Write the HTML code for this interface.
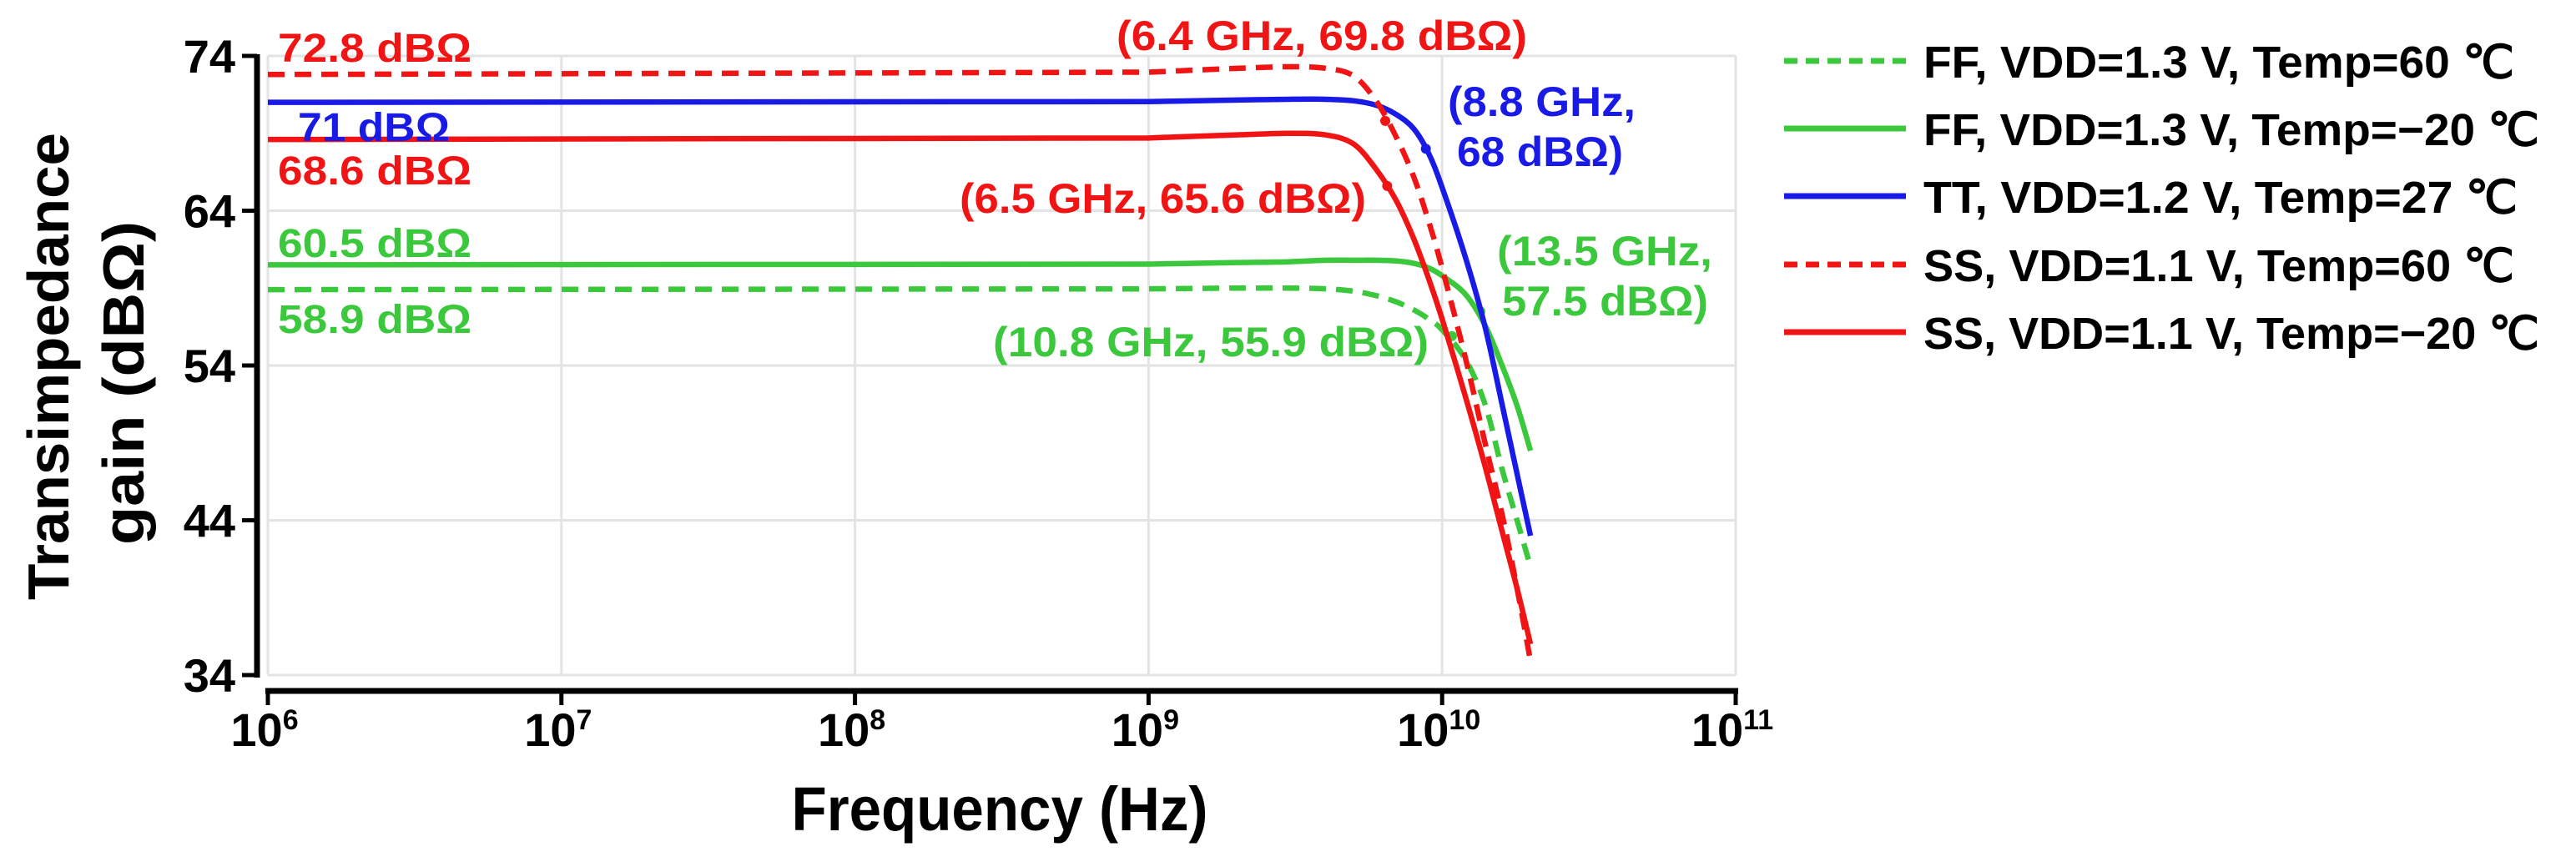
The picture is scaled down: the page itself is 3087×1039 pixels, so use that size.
<!DOCTYPE html>
<html><head><meta charset="utf-8"><style>
html,body{margin:0;padding:0;background:#fff;}
svg{display:block;font-family:"Liberation Sans",sans-serif;font-weight:bold;}
</style></head><body>
<svg id="chart" width="3087" height="1039" viewBox="0 0 3087 1039" xmlns="http://www.w3.org/2000/svg">
<g id="grid"></g>
<g id="series"></g>
<g id="axes"></g>
<g id="annot">
<text x="333" y="74" font-size="48" fill="#f01414" textLength="232" lengthAdjust="spacingAndGlyphs">72.8 dBΩ</text>
<text x="357" y="169" font-size="48" fill="#1a1ae6" textLength="182" lengthAdjust="spacingAndGlyphs">71 dBΩ</text>
<text x="333" y="221" font-size="48" fill="#f01414" textLength="232" lengthAdjust="spacingAndGlyphs">68.6 dBΩ</text>
<text x="333" y="308" font-size="48" fill="#3cc83c" textLength="232" lengthAdjust="spacingAndGlyphs">60.5 dBΩ</text>
<text x="333" y="399" font-size="48" fill="#3cc83c" textLength="232" lengthAdjust="spacingAndGlyphs">58.9 dBΩ</text>
<text x="1338" y="60" font-size="50" fill="#f01414" textLength="492" lengthAdjust="spacingAndGlyphs">(6.4 GHz, 69.8 dBΩ)</text>
<text x="1735" y="139" font-size="50" fill="#1a1ae6" textLength="225" lengthAdjust="spacingAndGlyphs">(8.8 GHz,</text>
<text x="1746" y="199" font-size="50" fill="#1a1ae6" textLength="199" lengthAdjust="spacingAndGlyphs">68 dBΩ)</text>
<text x="1150" y="255" font-size="50" fill="#f01414" textLength="487" lengthAdjust="spacingAndGlyphs">(6.5 GHz, 65.6 dBΩ)</text>
<text x="1794" y="318" font-size="50" fill="#3cc83c" textLength="258" lengthAdjust="spacingAndGlyphs">(13.5 GHz,</text>
<text x="1800" y="378" font-size="50" fill="#3cc83c" textLength="247" lengthAdjust="spacingAndGlyphs">57.5 dBΩ)</text>
<text x="1190" y="427" font-size="50" fill="#3cc83c" textLength="522" lengthAdjust="spacingAndGlyphs">(10.8 GHz, 55.9 dBΩ)</text>
</g>
<g id="legend"></g>
<text x="1198" y="995" font-size="74" text-anchor="middle" textLength="499" lengthAdjust="spacingAndGlyphs">Frequency (Hz)</text>
<text transform="translate(82,439) rotate(-90)" font-size="70" text-anchor="middle" textLength="560" lengthAdjust="spacingAndGlyphs">Transimpedance</text>
<text transform="translate(172,459) rotate(-90)" font-size="70" text-anchor="middle" textLength="388" lengthAdjust="spacingAndGlyphs">gain (dBΩ)</text>
</svg>
<script>
const freqs = [1e6,1e9,2e9,3e9,4e9,5e9,6e9,7e9,8e9,9e9,1e10,1.2e10,1.4e10,1.6e10,1.8e10,2e10];
const ff60  = [58.9,58.95,59.0,59.0,58.95,58.8,58.5,58.1,57.6,57.0,56.3,54.4,51.5,47.3,44.0,41.0];
const ffm20 = [60.5,60.55,60.65,60.7,60.8,60.8,60.8,60.75,60.6,60.3,59.8,58.6,56.6,54.0,51.4,48.5];
const tt27  = [71.0,71.05,71.15,71.2,71.2,71.1,70.8,70.2,69.3,67.7,65.5,61.0,56.5,51.5,47.0,43.0];
const ss60  = [72.8,72.95,73.2,73.3,73.2,72.7,71.0,68.7,66.2,63.3,60.3,54.5,49.0,44.4,39.6,34.9];
const ssm20 = [68.6,68.7,68.9,69.0,68.9,68.3,66.6,64.6,62.2,59.6,57.0,52.0,47.5,43.3,39.6,36.0];
const yTicks = [34,44,54,64,74];
const xExps = [6,7,8,9,10,11];
const seriesNames = ["FF, VDD=1.3 V, Temp=60 ℃","FF, VDD=1.3 V, Temp=−20 ℃","TT, VDD=1.2 V, Temp=27 ℃","SS, VDD=1.1 V, Temp=60 ℃","SS, VDD=1.1 V, Temp=−20 ℃"];
const markFreqs = [10.8e9,13.5e9,8.8e9,6.4e9,6.5e9];
const markVals = [55.9,57.5,68,69.8,65.6];

const NS="http://www.w3.org/2000/svg";
const X0=321,X1=2080,Y0=809,Y1=67;
function xs(f){return X0+(Math.log10(f)-6)/5*(X1-X0);}
function ys(v){return Y0-(v-34)/40*(Y0-Y1);}
function mk(tag,attrs,parent){const e=document.createElementNS(NS,tag);for(const k in attrs)e.setAttribute(k,attrs[k]);parent.appendChild(e);return e;}
const grid=document.getElementById('grid'),axes=document.getElementById('axes'),ser=document.getElementById('series'),leg=document.getElementById('legend');
yTicks.forEach(t=>{const l=mk('line',{x1:X0,x2:X1,y1:ys(t),y2:ys(t),stroke:'#e3e3e3','stroke-width':3},grid);

});
xExps.forEach(e=>{const x=xs(Math.pow(10,e));const l=mk('line',{x1:x,x2:x,y1:Y1,y2:Y0,stroke:'#e3e3e3','stroke-width':3},grid);

});
let ya=mk('line',{x1:308,x2:308,y1:Y1-2,y2:Y0+3,stroke:'#000','stroke-width':7},axes);


let xa=mk('line',{x1:X0-3,x2:X1+3,y1:828,y2:828,stroke:'#000','stroke-width':7},axes);


yTicks.forEach(t=>{const y=ys(t);
const tk=mk('line',{x1:290,x2:308,y1:y,y2:y,stroke:'#000','stroke-width':5},axes);


const tx=mk('text',{x:282,y:y+20,'font-size':56,'text-anchor':'end'},axes);tx.textContent=t;

});
xExps.forEach(e=>{const x=xs(Math.pow(10,e));
const tk=mk('line',{x1:x,x2:x,y1:828,y2:845,stroke:'#000','stroke-width':5},axes);


const tx=mk('text',{x:x-4,y:894,'font-size':56,'text-anchor':'middle'},axes);


const a=document.createElementNS(NS,'tspan');a.textContent='10';tx.appendChild(a);
const b=document.createElementNS(NS,'tspan');b.setAttribute('dy','-20');b.setAttribute('font-size','34');b.textContent=String(e);tx.appendChild(b);});
const styles=[{c:'#3cc83c',d:'20 12'},{c:'#3cc83c',d:''},{c:'#1a1ae6',d:''},{c:'#f01414',d:'20 12'},{c:'#f01414',d:''}];
const data=[ff60,ffm20,tt27,ss60,ssm20];
const keys=['ff-60','ff-minus20','tt-27','ss-60','ss-minus20'];
function path(vals){const p=freqs.map((f,i)=>[xs(f),ys(vals[i])]);let d='M'+p[0][0]+','+p[0][1]+' L'+p[1][0]+','+p[1][1];
for(let i=1;i<p.length-1;i++){const p0=p[i-1][0]<p[i][0]-100?[2*p[i][0]-p[i+1][0],2*p[i][1]-p[i+1][1]]:p[i-1],p1=p[i],p2=p[i+1],p3=p[Math.min(p.length-1,i+2)];
const c1=[p1[0]+(p2[0]-p0[0])/6,p1[1]+(p2[1]-p0[1])/6],c2=[p2[0]-(p3[0]-p1[0])/6,p2[1]-(p3[1]-p1[1])/6];
d+=' C'+c1.join(',')+' '+c2.join(',')+' '+p2.join(',');}return d;}
data.forEach((v,i)=>{const s=styles[i];const a={d:path(v),fill:'none',stroke:s.c,'stroke-width':6.5,'stroke-linejoin':'round'};if(s.d)a['stroke-dasharray']=s.d;
const p=mk('path',a,ser);


const m=mk('circle',{cx:xs(markFreqs[i]),cy:ys(markVals[i]),r:6,fill:s.c},ser);

});
const legY=[73,154,235,317,398];
seriesNames.forEach((n,i)=>{const s=styles[i];const y=legY[i];
const g=mk('g',{},leg);


const a={x1:2138,x2:2284,y1:y,y2:y,stroke:s.c,'stroke-width':7};if(s.d)a['stroke-dasharray']='16 10';
mk('line',a,g);
const t=mk('text',{x:2305,y:y+20,'font-size':54,textLength:(i==1||i==4)?738:(i==2?712:708),lengthAdjust:'spacingAndGlyphs'},g);t.textContent=n;});
</script>
</body></html>
